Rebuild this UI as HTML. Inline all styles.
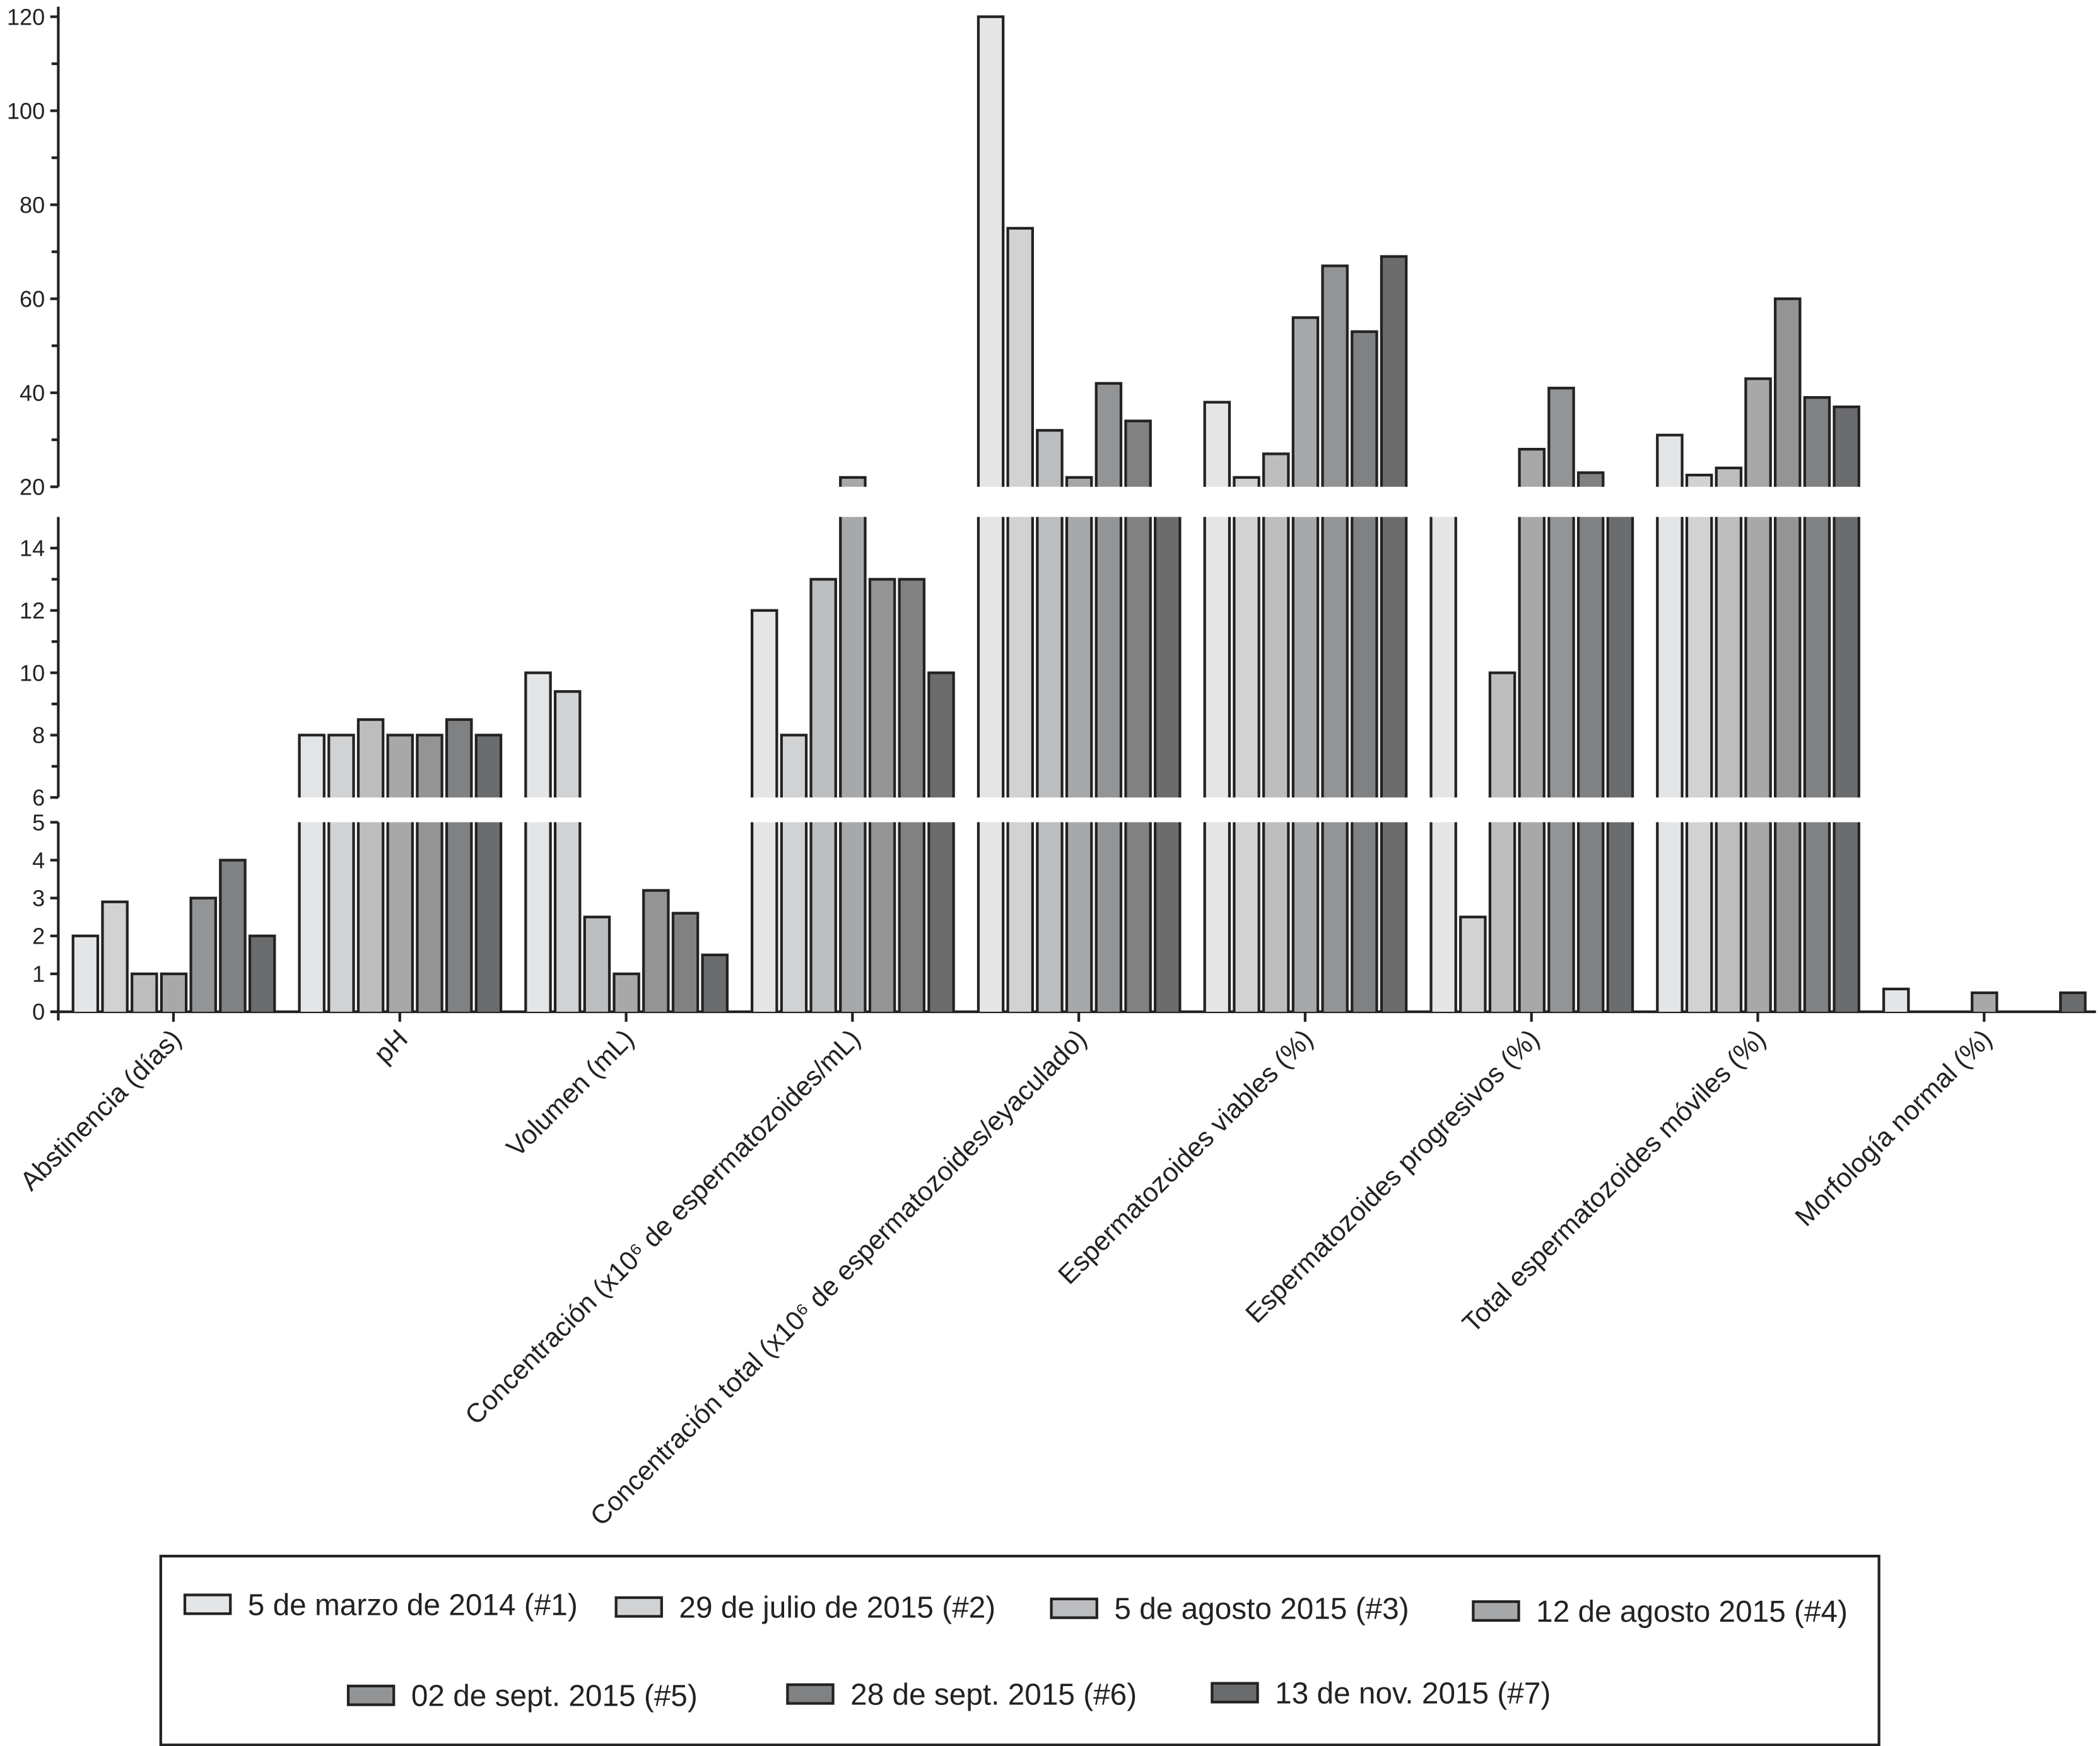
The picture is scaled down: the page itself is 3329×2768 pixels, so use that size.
<!DOCTYPE html>
<html><head><meta charset="utf-8">
<style>
html,body{margin:0;padding:0;background:#fff;}
svg{display:block;}
text{font-family:"Liberation Sans",Arial,sans-serif;fill:#222;}
</style></head>
<body>
<svg id="chart" width="3329" height="2768" viewBox="0 0 1568 1303.8" xmlns="http://www.w3.org/2000/svg">
<g id="axes"></g>
<g id="bars"></g>
<g id="xlabels"></g>
<g id="legend">
<rect x="120" y="1162" width="1283" height="141" fill="#fff" stroke="#222" stroke-width="2"/>
</g>
</svg>
<script>
const categories = ["Abstinencia (días)","pH","Volumen (mL)","Concentración (x10⁶ de espermatozoides/mL)","Concentración total (x10⁶ de espermatozoides/eyaculado)","Espermatozoides viables (%)","Espermatozoides progresivos (%)","Total espermatozoides móviles (%)","Morfología normal (%)"];
const seriesNames = ["5 de marzo de 2014 (#1)","29 de julio de 2015 (#2)","5 de agosto 2015 (#3)","12 de agosto 2015 (#4)","02 de sept. 2015 (#5)","28 de sept. 2015 (#6)","13 de nov. 2015 (#7)"];
const s1 = [2, 8, 10, 12, 120, 38, 17, 31, 0.6];
const s2 = [2.9, 8, 9.4, 8, 75, 22, 2.5, 22.5, 0];
const s3 = [1, 8.5, 2.5, 13, 32, 27, 10, 24, 0];
const s4 = [1, 8, 1, 22, 22, 56, 28, 43, 0.5];
const s5 = [3, 8, 3.2, 13, 42, 67, 41, 60, 0];
const s6 = [4, 8.5, 2.6, 13, 34, 53, 23, 39, 0];
const s7 = [2, 8, 1.5, 10, 18, 69, 18, 37, 0.5];
const series = [s1,s2,s3,s4,s5,s6,s7];
const colors = ["#e4e5e6","#d1d2d3","#bcbdbf","#a7a8aa","#939496","#808183","#6b6c6e"];
const ticksLow = [0,1,2,3,4,5];
const ticksMid = [6,8,10,12,14];
const ticksTop = [20,40,60,80,100,120];

const NS="http://www.w3.org/2000/svg";
function mk(tag, attrs, parent){const e=document.createElementNS(NS,tag);for(const k in attrs)e.setAttribute(k,attrs[k]);parent.appendChild(e);return e;}
const segs=[{lo:0,hi:5,y0:755.5,y1:614},{lo:6,hi:15,y0:595.5,y1:386},{lo:20,hi:120,y0:363.5,y1:12.5}];
function ySeg(s,v){return s.y0-(v-s.lo)/(s.hi-s.lo)*(s.y0-s.y1);}
const AX=43.5, X0=54, PITCH=22, GROUP=169, BW=18.5;
function xBar(ci,si){return X0+ci*GROUP+si*PITCH;}
const axes=document.getElementById('axes');
let l;
l=mk('line',{x1:AX,y1:ySeg(segs[0],0),x2:AX,y2:ySeg(segs[0],5),stroke:'#222','stroke-width':2},axes);


l=mk('line',{x1:AX,y1:595.5,x2:AX,y2:386,stroke:'#222','stroke-width':2},axes);


l=mk('line',{x1:AX,y1:363.5,x2:AX,y2:5,stroke:'#222','stroke-width':2},axes);


l=mk('line',{x1:AX-5,y1:755.5,x2:1565,y2:755.5,stroke:'#222','stroke-width':2},axes);


function addTicks(seg,arr,minor){
  arr.forEach(v=>{
    const y=ySeg(seg,v);
    const t=mk('line',{x1:AX-6,y1:y,x2:AX,y2:y,stroke:'#222','stroke-width':2},axes);
    
    
    const tx=mk('text',{x:AX-10,y:y+6,'text-anchor':'end','font-size':17},axes);
    tx.textContent=v;
    
    
  });
  if(minor){minor.forEach(v=>{const y=ySeg(seg,v);const t=mk('line',{x1:AX-5,y1:y,x2:AX,y2:y,stroke:'#222','stroke-width':2},axes);
    
    });}
}
addTicks(segs[0],ticksLow);
addTicks(segs[1],ticksMid,[7,9,11,13]);
addTicks(segs[2],ticksTop,[30,50,70,90,110]);
const xl=document.getElementById('xlabels');
const t0=mk('line',{x1:AX,y1:755.5,x2:AX,y2:762,stroke:'#222','stroke-width':2},axes);


categories.forEach((c,ci)=>{
  const cxt=X0+ci*GROUP+75.5;
  const t=mk('line',{x1:cxt,y1:755.5,x2:cxt,y2:763,stroke:'#222','stroke-width':2},axes);
  
  
  const tx=mk('text',{x:0,y:0,'text-anchor':'end','font-size':20,transform:`translate(${cxt+7},${777}) rotate(-45)`},xl);
  tx.textContent=c;
  
  
});
const bars=document.getElementById('bars');
function piece(x,yb,yt,col,openTop,parent){
  const g=mk('g',{},parent);
  mk('rect',{x:x,y:yt,width:BW,height:Math.max(0,yb-yt),fill:col},g);
  let d=`M${x},${yb} L${x},${yt}`;
  if(!openTop) d+=` L${x+BW},${yt}`; else d+=` M${x+BW},${yt}`;
  d+=` L${x+BW},${yb}`;
  mk('path',{d:d,fill:'none',stroke:'#222','stroke-width':2},g);
}
series.forEach((arr,si)=>{
  arr.forEach((v,ci)=>{
    if(!v) return;
    const g=mk('g',{},bars);
    
    
    const x=xBar(ci,si)+0.5;
    const col=colors[si];
    segs.forEach((s,k)=>{
      if(v<=s.lo && k>0) return;
      const top=Math.min(v,s.hi);
      piece(x,s.y0,ySeg(s,top),col,v>s.hi,g);
    });
  });
});
const lg=document.getElementById('legend');
const legPos=[[138,1198],[460,1200],[785,1201],[1100,1203],[260,1266],[588,1265],[905,1264]];
seriesNames.forEach((n,i)=>{
  const g=mk('g',{},lg);
  
  
  const [x,y]=legPos[i];
  mk('rect',{x:x,y:y-7,width:34,height:14,fill:colors[i],stroke:'#222','stroke-width':2},g);
  const t=mk('text',{x:x+47,y:y+8,'font-size':22.5},g);
  t.textContent=n;
});
</script>
</body></html>
